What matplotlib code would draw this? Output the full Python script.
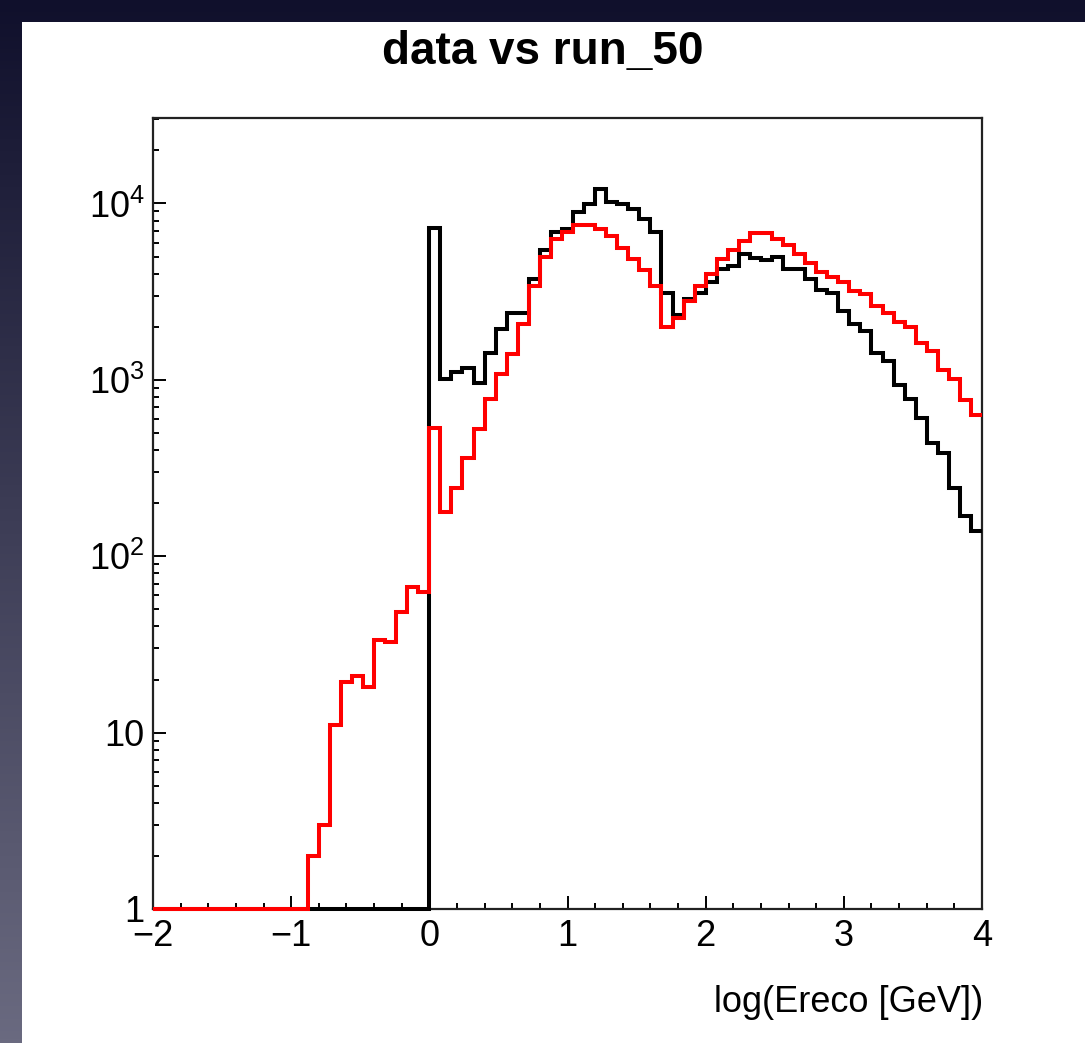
"""
plot.py

Recreate the ROOT style histogram "data vs run_50" with matplotlib.
"""

#####################################
# Import Modules
#####################################
import numpy as np
import matplotlib
matplotlib.use("Agg")
import matplotlib.pyplot as plt
from matplotlib.patches import Rectangle
from matplotlib.ticker import FixedLocator, FixedFormatter, MultipleLocator, LogLocator, NullFormatter

plt.rcParams["font.family"] = ["Liberation Sans", "DejaVu Sans"]
plt.rcParams["mathtext.fontset"] = "custom"
plt.rcParams["mathtext.rm"] = "Liberation Sans"
plt.rcParams["mathtext.it"] = "Liberation Sans:italic"

#####################################
# Data
#####################################

# 75 bins of width 0.08 between -2 and 4
x_min = -2.0
x_max = 4.0
n_bins = 75

data_counts = [
    0, 0, 0, 0, 0, 0, 0, 0, 0, 0,
    0, 0, 0, 0, 0, 0, 0, 0, 0, 0,
    0, 0, 0, 0, 0,
    7290, 1015, 1106, 1172, 954, 1412, 1933, 2390, 2390, 3720,
    5460, 6900, 7130, 8950, 9980, 12130, 10190, 9980, 9260, 8200,
    6920, 3090, 2330, 2860, 3090, 3580, 4270, 4420, 5140, 4930,
    4780, 4990, 4270, 4270, 3710, 3230, 3090, 2450, 2060, 1890,
    1425, 1277, 930, 774, 610, 440, 383, 244, 170, 139,
]

run50_counts = [
    0, 0, 0, 0, 0, 0, 0, 0, 0, 0,
    0, 0, 0, 0, 2, 3, 11, 19.3, 20.9, 18.2,
    33.7, 32.8, 48, 67, 62.5,
    530, 178, 244, 362, 528, 774, 1073, 1393, 2061, 3400,
    4990, 6310, 6850, 7550, 7550, 7130, 6530, 5610, 4820, 4190,
    3400, 2000, 2250, 2800, 3400, 3960, 4870, 5440, 6120, 6760,
    6760, 6310, 5780, 5140, 4570, 4080, 3850, 3600, 3190, 3050,
    2620, 2400, 2130, 2000, 1610, 1450, 1135, 1005, 767, 634,
]

y_tick_values = [1, 10, 100, 1000, 10000]
y_tick_labels = ["1", "10", "$10^{2}$", "$10^{3}$", "$10^{4}$"]
x_tick_values = [-2, -1, 0, 1, 2, 3, 4]
x_tick_labels = ["\u22122", "\u22121", "0", "1", "2", "3", "4"]

y_min = 1
y_max = 3.05e4

#####################################
# Figure with the dark frame and the white canvas
#####################################

W, H = 1085, 1043
fig = plt.figure(figsize=(W / 100, H / 100), dpi=100)

# dark gradient background
bg = fig.add_axes([0, 0, 1, 1], zorder=-10)
top_col = np.array([0x10, 0x10, 0x2c]) / 255
bot_col = np.array([0x6a, 0x6a, 0x80]) / 255
t = np.linspace(0, 1, 256)[:, None]
grad = top_col[None, :] * (1 - t) + bot_col[None, :] * t
bg.imshow(grad[:, None, :], aspect="auto", extent=[0, 1, 0, 1])
bg.set_axis_off()

# white canvas
fig.patches.append(Rectangle((22 / W, 0), 1 - 22 / W, 1 - 22 / H,
                             transform=fig.transFigure, facecolor="white",
                             edgecolor="none", zorder=-5))

#####################################
# Histogram axes
#####################################

ax = fig.add_axes([153 / W, 1 - 909 / H, (982 - 153) / W, (909 - 118) / H])
ax.set_facecolor("white")

edges = np.linspace(x_min, x_max, n_bins + 1)
black_vals = np.clip(np.array(data_counts, dtype=float), y_min, None)
red_vals = np.clip(np.array(run50_counts, dtype=float), y_min, None)

ax.stairs(black_vals, edges, baseline=None, color="black", linewidth=2.9, clip_on=False, zorder=3)
ax.stairs(red_vals, edges, baseline=None, color="#ff0000", linewidth=2.9, clip_on=False, zorder=4)

ax.set_yscale("log")
ax.set_xlim(x_min, x_max)
ax.set_ylim(y_min, y_max)

# ticks, ROOT style (inside, left and bottom only)
ax.yaxis.set_major_locator(FixedLocator(y_tick_values))
ax.yaxis.set_major_formatter(FixedFormatter(y_tick_labels))
ax.yaxis.set_minor_locator(LogLocator(base=10, subs=np.arange(2, 10)))
ax.yaxis.set_minor_formatter(NullFormatter())
ax.xaxis.set_major_locator(FixedLocator(x_tick_values))
ax.xaxis.set_major_formatter(FixedFormatter(x_tick_labels))
ax.xaxis.set_minor_locator(MultipleLocator(0.2))

ax.tick_params(which="both", direction="in", top=False, right=False, width=1.4, color="black")
ax.tick_params(which="major", length=9.5)
ax.tick_params(which="minor", length=4.5)
ax.tick_params(axis="y", labelsize=26, pad=6)
ax.tick_params(axis="x", labelsize=26, pad=7)

for spine in ax.spines.values():
    spine.set_linewidth(1.6)
    spine.set_color("#222222")

#####################################
# Texts
#####################################

fig.text(0.5, 1 - 52 / H, "data vs run_50", ha="center", va="center",
         fontsize=33, fontweight="bold")
fig.text(983 / W, 1 - 1002 / H, "log(Ereco [GeV])", ha="right", va="center",
         fontsize=26)

fig.savefig("out.png", dpi=100)
